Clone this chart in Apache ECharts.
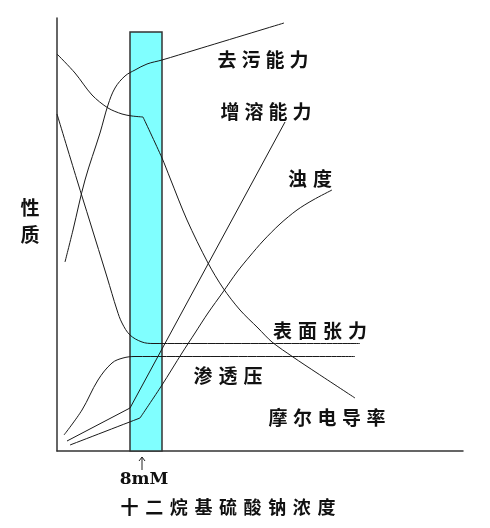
<!DOCTYPE html>
<html>
<head>
<meta charset="utf-8">
<script src="https://cdn.jsdelivr.net/npm/echarts@6/dist/echarts.min.js"></script>
<style>
html,body{margin:0;padding:0;background:#fff}
#main{width:490px;height:528px}
</style>
</head>
<body>
<div id="main"></div>
<script>
// 横轴: 十二烷基硫酸钠浓度 (任意单位)，纵轴: 性质 (任意单位)
var detergency = [[8,189],[16,221],[28,271],[43,318],[51,346],[58,363],[68,375],[78,381],[90,387],[105,391],[138,401],[227,428]]
var conductivity = [[0,397],[18,378],[35,356],[51,343],[65,337],[75,335],[86,334],[105,293],[113,273],[130,231],[151,188],[166,163],[183,141],[201,123],[215,109],[236,94],[260,78],[298,53]]
var surfaceTension = [[0,337],[20,271],[33,229],[50,174],[60,141],[65,128],[73,116],[85,109],[96,107.5],[303,107.5]]
var osmotic = [[7,16],[25,41],[41,71],[55,88],[66,93],[78,94.5],[298,94.5]]
var solubilization = [[10,10],[73,43],[228,329]]
var turbidity = [[13,6],[83,33],[105,66],[125,98],[138,118],[151,138],[166,159],[180,179],[193,195],[206,210],[223,227],[240,241],[256,251],[275,261]]

// 折点 (数组下标)
var conductivityKink = 6
var turbidityKink = 1

var cmcRange = [73,105]   // 临界胶束浓度区
var cmcLabel = "8mM"
var xTitle = "十二烷基硫酸钠浓度"
var yTitle = "性质"

var chart = echarts.init(document.getElementById('main'))

function curve(name,data,smooth){
    return {
        name:name,
        type:'line',
        data:data,
        smooth:smooth,
        symbol:'none',
        silent:true,
        z:3,
        lineStyle:{color:'#1a1a1a',width:1}
    }
}

// 在折点处断开，两段各自平滑，折角不被抹圆
function kinked(name,data,k,smooth){
    return [curve(name,data.slice(0,k+1),smooth),curve(name,data.slice(k),smooth)]
}

// 每个字单独放，字距拉开
function spaced(str,x,y,size,step){
    var els=[]
    var x0 = x-(str.length-1)*step/2
    for(var i=0;i<str.length;i++){
        els.push({
            type:'text',
            x:x0+i*step,
            y:y,
            style:{
                text:str[i],
                fill:'#111',
                font:'bold '+size+'px "Noto Sans CJK SC"',
                align:'center',
                verticalAlign:'middle'
            }
        })
    }
    return els
}

var texts=[]
texts=texts.concat(spaced("去污能力",263,60,19,24))
texts=texts.concat(spaced("增溶能力",266,112,19,24))
texts=texts.concat(spaced("浊度",310,179,19,25))
texts=texts.concat(spaced("表面张力",320,331,19,25))
texts=texts.concat(spaced("渗透压",228,376,19,25))
texts=texts.concat(spaced("摩尔电导率",327,418,19,24.5))
texts=texts.concat(spaced(xTitle,228,507,18,24.6))
texts=texts.concat(spaced(yTitle,30,208,19,0).map(function(el,i){el.y=208+i*27;return el}))
texts.push({
    type:'text',x:144,y:480,
    style:{text:cmcLabel,fill:'#111',font:'bold 17px "DejaVu Serif"',align:'center',verticalAlign:'middle'}
})
// 箭头
texts.push({type:'line',shape:{x1:142,y1:470,x2:142,y2:457},style:{stroke:'#222',lineWidth:1}})
texts.push({type:'polyline',shape:{points:[[139,461],[142,457],[145,461]]},style:{stroke:'#222',lineWidth:1,fill:null}})

var option={
    animation:false,
    backgroundColor:'#fff',
    grid:{left:57,right:27,top:18,bottom:77},
    xAxis:{
        type:'value',min:0,max:406,
        axisLine:{lineStyle:{color:'#333',width:1.5}},
        axisTick:{show:false},axisLabel:{show:false},splitLine:{show:false}
    },
    yAxis:{
        type:'value',min:0,max:433,
        axisLine:{show:true,lineStyle:{color:'#333',width:1.5}},
        axisTick:{show:false},axisLabel:{show:false},splitLine:{show:false}
    },
    graphic:texts,
    series:[
        {
            type:'line',data:[],z:1,silent:true,
            markArea:{
                silent:true,
                itemStyle:{color:'#80FFFF',borderColor:'#333',borderWidth:1.5},
                data:[[{xAxis:cmcRange[0],yAxis:0},{xAxis:cmcRange[1],yAxis:419}]]
            }
        },
        curve('去污能力',detergency,0.35),
        curve('表面张力',surfaceTension,0.35),
        curve('渗透压',osmotic,0.35),
        curve('增溶能力',solubilization,false)
    ].concat(
        kinked('摩尔电导率',conductivity,conductivityKink,0.3),
        kinked('浊度',turbidity,turbidityKink,0.3)
    )
}
chart.setOption(option)
</script>
</body>
</html>
